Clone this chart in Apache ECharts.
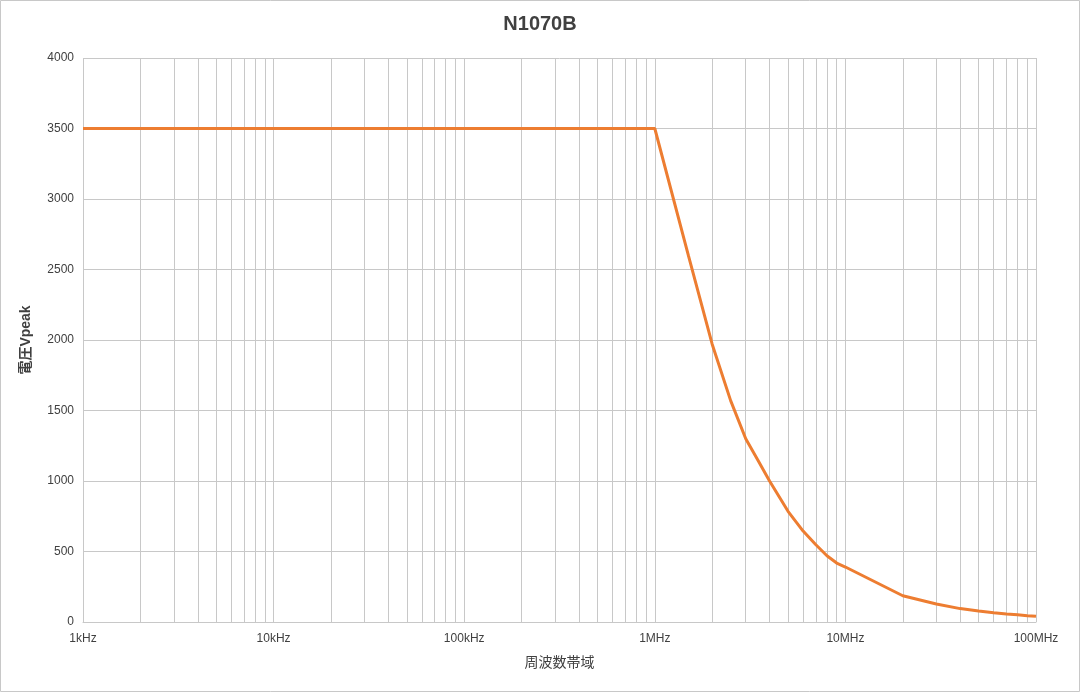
<!DOCTYPE html>
<html>
<head>
<meta charset="utf-8">
<script src="https://cdn.jsdelivr.net/npm/echarts@6/dist/echarts.min.js"></script>
<style>
html,body{margin:0;padding:0;background:#fff;}
#chart{width:1080px;height:692px;}
</style>
</head>
<body>
<div id="chart"></div>
<script>
// Data
const titleText = 'N1070B';
const xAxisName = '周波数帯域';
const yAxisName = '電圧Vpeak';
const freqHz = [1e3, 1e4, 1e5, 1e6, 1.5e6, 2e6, 2.5e6, 3e6, 3.5e6, 4e6, 5e6, 6e6, 7e6, 8e6, 9e6, 1e7, 2e7, 3e7, 4e7, 5e7, 6e7, 7e7, 8e7, 9e7, 1e8];
const voltage = [3500, 3500, 3500, 3500, 2600, 1970, 1570, 1300, 1140, 1000, 785, 645, 548, 470, 418, 390, 186, 128, 95, 78, 66, 57, 51, 45, 40];
const xTickLabels = ['1kHz', '10kHz', '100kHz', '1MHz', '10MHz', '100MHz']; // 10^3 .. 10^8
const minorMultipliers = [2, 3, 4, 5, 6, 7, 8, 9];
const decades = [1e3, 1e4, 1e5, 1e6, 1e7];

const minorLines = [];
decades.forEach(d => minorMultipliers.forEach(m => minorLines.push({ xAxis: d * m })));

const chart = echarts.init(document.getElementById('chart'));
chart.setOption({
  animation: false,
  backgroundColor: '#fff',
  title: {
    text: titleText,
    left: 'center',
    top: 9,
    textStyle: { fontFamily: 'Liberation Sans, Arial, sans-serif', fontSize: 20, fontWeight: 'bold', color: '#404040' }
  },
  graphic: [{
    type: 'rect',
    shape: { x: 0.5, y: 0.5, width: 1079, height: 691 },
    style: { fill: 'none', stroke: '#c8c8c8', lineWidth: 1 },
    silent: true
  }],
  grid: { left: 83, right: 44, top: 58, bottom: 70, containLabel: false },
  xAxis: {
    type: 'log',
    logBase: 10,
    min: 1e3,
    max: 1e8,
    name: xAxisName,
    nameLocation: 'middle',
    nameGap: 33,
    nameTextStyle: { fontFamily: 'Noto Sans CJK JP, sans-serif', fontSize: 14, color: '#404040' },
    axisLine: { show: true, lineStyle: { color: '#c8c8c8', width: 1 } },
    axisTick: { show: false },
    axisLabel: {
      margin: 11,
      fontFamily: 'Liberation Sans, Arial, sans-serif',
      fontSize: 12,
      color: '#404040',
      formatter: v => xTickLabels[Math.round(Math.log10(v)) - 3] || ''
    },
    splitLine: { show: true, lineStyle: { color: '#c8c8c8', width: 1 } }
  },
  yAxis: {
    type: 'value',
    min: 0,
    max: 4000,
    interval: 500,
    name: yAxisName,
    nameLocation: 'middle',
    nameGap: 50,
    nameTextStyle: { fontFamily: 'Liberation Sans, Noto Sans CJK JP, sans-serif', fontSize: 14, fontWeight: 'bold', color: '#404040' },
    axisLine: { show: false },
    axisTick: { show: false },
    axisLabel: {
      margin: 9,
      fontFamily: 'Liberation Sans, Arial, sans-serif',
      fontSize: 12,
      color: '#404040',
      formatter: v => String(v)
    },
    splitLine: { show: true, lineStyle: { color: '#c8c8c8', width: 1 } }
  },
  series: [
    {
      type: 'line',
      data: [],
      z: 1,
      silent: true,
      markLine: {
        silent: true,
        symbol: ['none', 'none'],
        label: { show: false },
        lineStyle: { color: '#c8c8c8', width: 1, type: 'solid' },
        emphasis: { disabled: true },
        data: minorLines
      }
    },
    {
      type: 'line',
      z: 5,
      data: freqHz.map((f, i) => [f, voltage[i]]),
      showSymbol: false,
      symbol: 'none',
      smooth: false,
      lineStyle: { color: '#ED7D31', width: 3 },
      itemStyle: { color: '#ED7D31' }
    }
  ]
});
</script>
</body>
</html>
